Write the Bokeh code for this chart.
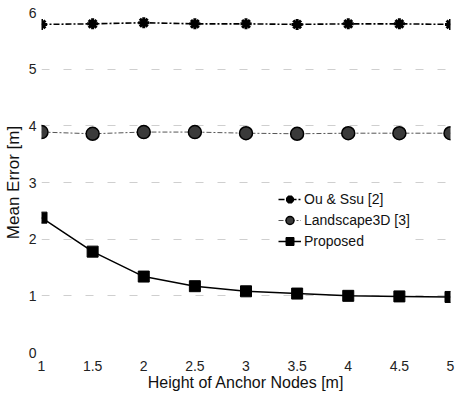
from bokeh.plotting import figure
from bokeh.models import Range1d, FixedTicker, Legend, LegendItem
from bokeh.embed import file_html
from bokeh.resources import INLINE

heights = [1, 1.5, 2, 2.5, 3, 3.5, 4, 4.5, 5]
ou_ssu = [5.79, 5.80, 5.82, 5.80, 5.80, 5.79, 5.80, 5.80, 5.79]
landscape3d = [3.89, 3.86, 3.89, 3.89, 3.87, 3.86, 3.87, 3.87, 3.87]
proposed = [2.38, 1.78, 1.34, 1.17, 1.08, 1.04, 1.00, 0.99, 0.98]
x_ticks = [1, 1.5, 2, 2.5, 3, 3.5, 4, 4.5, 5]
y_ticks = [0, 1, 2, 3, 4, 5, 6]

FONT = "Liberation Sans"

p = figure(width=457, height=395, output_backend="svg", toolbar_location=None,
           x_range=Range1d(1, 5), y_range=Range1d(0, 6),
           min_border_left=38, min_border_right=7, min_border_top=12, min_border_bottom=43)
p.outline_line_color = None
p.background_fill_color = "white"

for ax in (p.xaxis[0], p.yaxis[0]):
    ax.axis_line_color = None
    ax.major_tick_line_color = None
    ax.minor_tick_line_color = None
    ax.major_tick_out = 0
    ax.major_tick_in = 0
    ax.minor_tick_out = 0
    ax.minor_tick_in = 0
    ax.major_label_text_font = FONT
    ax.major_label_text_font_size = "14px"
    ax.major_label_text_color = "#222222"
    ax.axis_label_text_font = FONT
    ax.axis_label_text_font_style = "normal"
    ax.axis_label_text_color = "#111111"

p.xaxis.ticker = FixedTicker(ticks=x_ticks)
p.yaxis.ticker = FixedTicker(ticks=y_ticks)
p.xaxis.major_label_standoff = 8
p.yaxis.major_label_standoff = 5
p.xaxis.axis_label = "Height of Anchor Nodes [m]"
p.yaxis.axis_label = "Mean Error [m]"
p.xaxis.axis_label_text_font_size = "16px"
p.yaxis.axis_label_text_font_size = "17px"
p.xaxis.axis_label_standoff = 0
p.yaxis.axis_label_standoff = 3

p.xgrid.grid_line_color = None
p.ygrid.grid_line_color = "#cfcfcf"
p.ygrid.grid_line_dash = "8 14"
p.ygrid.grid_line_width = 1

l1 = p.line(heights, ou_ssu, line_color="black", line_width=1.6, line_dash="6 2 2 2")
m1 = p.scatter(heights, ou_ssu, marker="asterisk", size=11, line_color="black", line_width=3)
l2 = p.line(heights, landscape3d, line_color="#555555", line_width=1.0, line_dash="5 2 2 2")
m2 = p.scatter(heights, landscape3d, marker="circle", size=13, fill_color="#3a3a3a",
               line_color="black", line_width=1.5)
l3 = p.line(heights, proposed, line_color="black", line_width=1.5)
m3 = p.scatter(heights, proposed, marker="square", size=11, fill_color="black",
               line_color="black")

legend = Legend(items=[
    LegendItem(label="Ou & Ssu [2]", renderers=[l1, m1]),
    LegendItem(label="Landscape3D [3]", renderers=[l2, m2]),
    LegendItem(label="Proposed", renderers=[l3, m3]),
], location=(237, 101))
legend.border_line_color = None
legend.background_fill_color = "white"
legend.background_fill_alpha = 1
legend.label_text_font = FONT
legend.label_text_font_size = "14px"
legend.label_text_color = "#111111"
legend.glyph_width = 23
legend.glyph_height = 20
legend.label_height = 20
legend.spacing = 1
legend.padding = 2
legend.margin = 0
legend.label_standoff = 3
p.add_layout(legend, "center")

open("out.html", "w").write(file_html(p, INLINE))
